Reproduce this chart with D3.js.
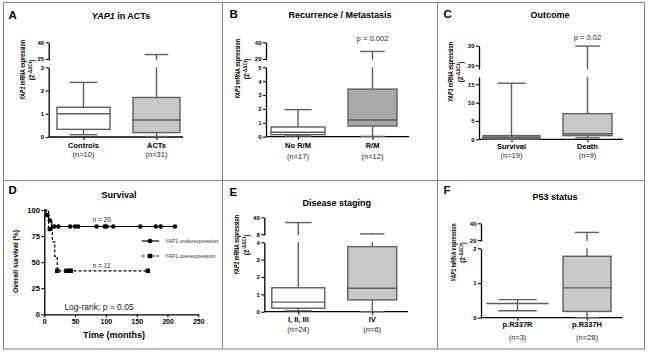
<!DOCTYPE html>
<html>
<head>
<meta charset="utf-8">
<script src="https://cdn.jsdelivr.net/npm/d3@7"></script>
<style>
  body { margin: 0; background: #fff; }
  text { font-family: "Liberation Sans", Arial, sans-serif; }
</style>
</head>
<body>
<svg width="650" height="353"></svg>
<script>
/* SECTION: data */

// box panels: [min, q1, median, q3, max]
var aGroups = ["Controls", "ACTs"];
var aCounts = ["(n=10)", "(n=31)"];
var aStats = [[0.1, 0.33, 1.0, 1.28, 2.35], [0.02, 0.19, 0.73, 1.7, 29]];
var aLowTicks = [0, 1, 2, 3];
var aHighTicks = [25, 40];

var bGroups = ["No R/M", "R/M"];
var bCounts = ["(n=17)", "(n=12)"];
var bStats = [[0.05, 0.15, 0.32, 0.7, 1.95], [0.02, 0.77, 1.2, 3.43, 29]];
var bLowTicks = [0, 1, 2, 3, 4, 5];
var bHighTicks = [20, 40];

var cGroups = ["Survival", "Death"];
var cCounts = ["(n=19)", "(n=9)"];
var cStats = [[0, 0.05, 0.45, 1.0, 15.3], [0.4, 1.0, 1.5, 7.0, 29.8]];
var cLowTicks = [0, 5, 10, 15];
var cHighTicks = [20, 30];

var eGroups = ["I, II, III", "IV"];
var eCounts = ["(n=24)", "(n=6)"];
var eStats = [[0.05, 0.2, 0.55, 1.38, 30], [0.0, 0.68, 1.35, 3.75, 8.6]];
var eLowTicks = [0, 1, 2, 3, 4];
var eHighTicks = [8, 40];

var fGroups = ["p.R337R", "p.R337H"];
var fCounts = ["(n=3)", "(n=28)"];
var fStats = [[0.2, 0.41, 0.41, 0.41, 0.52], [0.0, 0.18, 0.86, 1.77, 29.2]];
var fLowTicks = [0, 1, 2];
var fHighTicks = [20, 40];

// survival (Kaplan-Meier), months / %
var underStepT = [0, 3, 7, 12, 212];
var underStepS = [100, 95, 90, 84.2, 84.2];
var underCensorT = [5, 9, 16, 23, 42, 50, 55, 85, 98, 101, 112, 156, 181, 189, 212];
var overStepT = [0, 7, 13, 17, 21, 168];
var overStepS = [100, 81.8, 69.5, 55.6, 41.7, 41.7];
var overCensorT = [9, 21, 36, 40, 43, 168];
var survXTicks = [0, 50, 100, 150, 200, 250];
var survYTicks = [0, 25, 50, 75, 100];

/* SECTION: helpers */

var svg = d3.select("svg");
var FONT = "'Liberation Sans', Arial, sans-serif";
var BOXLINE = "#5f5f5f";
var fmt = d3.format("d");

function styleAxis(g, fs) {
  g.attr("font-family", FONT).attr("font-size", fs).attr("font-weight", "bold");
  g.select(".domain").attr("stroke", "#000").attr("stroke-width", 1.3);
  g.selectAll(".tick line").attr("stroke", "#000").attr("stroke-width", 1.1);
  g.selectAll(".tick text").attr("fill", "#000");
}

function addText(g, x, y, str, fs, weight, anchor) {
  return g.append("text").attr("x", x).attr("y", y)
    .attr("font-size", fs).attr("font-weight", weight || "normal")
    .attr("text-anchor", anchor || "middle").attr("fill", "#000").text(str);
}

function yapTitle(g, x1, x2, cy, len) {
  var t = g.append("text").attr("transform", "translate(" + x1 + "," + cy + ") rotate(-90)")
    .attr("text-anchor", "middle").attr("font-size", 7.5).attr("font-weight", "bold")
    .attr("textLength", len).attr("lengthAdjust", "spacingAndGlyphs");
  t.append("tspan").attr("font-style", "italic").text("YAP1");
  t.append("tspan").text(" mRNA expression");
  var t2 = g.append("text").attr("transform", "translate(" + x2 + "," + cy + ") rotate(-90)")
    .attr("text-anchor", "middle").attr("font-size", 6.5).attr("font-weight", "bold");
  t2.append("tspan").text("(2");
  t2.append("tspan").attr("font-size", 4.5).attr("dy", -2.5).text("-ΔΔCt");
  t2.append("tspan").attr("dy", 2.5).text(")");
}

function boxPanel(p) {
  var g = svg.append("g");
  var lo = d3.scaleLinear().domain(p.loDomain).range(p.loRange);
  var up = d3.scaleLinear().domain(p.upDomain).range(p.upRange);
  var x = d3.scalePoint().domain(p.groups).range(p.xRange);
  var loTop = p.loDomain[1], upBot = p.upDomain[0];

  addText(g, p.letter[1], p.letter[2], p.letter[0], 11.5, "bold", "start");
  var tt = addText(g, p.title[1], p.title[2], "", 9, "bold");
  if (p.italicTitle) {
    tt.append("tspan").attr("font-style", "italic").text(p.italicTitle);
  }
  tt.append("tspan").text(p.title[0]);
  yapTitle(g, p.ylab[0], p.ylab[1], p.ylab[2], p.ylab[3]);

  var gl = g.append("g").attr("transform", "translate(" + p.ax + ",0)")
    .call(d3.axisLeft(lo).tickValues(p.loTicks).tickFormat(fmt).tickSize(3).tickSizeOuter(0).tickPadding(1.5));
  styleAxis(gl, 6);
  var gu = g.append("g").attr("transform", "translate(" + p.ax + ",0)")
    .call(d3.axisLeft(up).tickValues(p.upTicks).tickFormat(fmt).tickSize(3).tickSizeOuter(0).tickPadding(1.5));
  styleAxis(gu, 6);

  var gx = g.append("g").attr("transform", "translate(0," + lo(0) + ")")
    .call(d3.axisBottom(x).tickSize(3).tickSizeOuter(0).tickFormat(""));
  styleAxis(gx, 6);
  gx.select(".domain").remove();
  g.append("line").attr("x1", p.ax).attr("x2", p.xEnd).attr("y1", lo(0)).attr("y2", lo(0))
    .attr("stroke", "#000").attr("stroke-width", 1.3);

  function vseg(cx, a, b) {
    if (a < loTop) {
      g.append("line").attr("x1", cx).attr("x2", cx)
        .attr("y1", lo(Math.max(a, 0))).attr("y2", lo(Math.min(b, loTop)))
        .attr("stroke", BOXLINE).attr("stroke-width", 1.4);
    }
    if (b > upBot) {
      g.append("line").attr("x1", cx).attr("x2", cx)
        .attr("y1", up(Math.max(a, upBot))).attr("y2", up(b))
        .attr("stroke", BOXLINE).attr("stroke-width", 1.4);
    }
  }
  function yv(v) { return v <= loTop ? lo(v) : up(v); }

  p.stats.forEach(function(s, i) {
    var cx = x(p.groups[i]), w = p.boxW[i], cw = w * p.capF[i];
    vseg(cx, s[3], s[4]);
    vseg(cx, s[0], s[1]);
    [s[0], s[4]].forEach(function(v) {
      g.append("line").attr("x1", cx - cw / 2).attr("x2", cx + cw / 2)
        .attr("y1", yv(v)).attr("y2", yv(v))
        .attr("stroke", BOXLINE).attr("stroke-width", 1.4);
    });
    if (s[3] > s[1]) {
      g.append("rect").attr("x", cx - w / 2).attr("width", w)
        .attr("y", lo(s[3])).attr("height", lo(s[1]) - lo(s[3]))
        .attr("fill", p.fills[i]).attr("stroke", BOXLINE).attr("stroke-width", 1.4);
    }
    g.append("line").attr("x1", cx - w / 2).attr("x2", cx + w / 2)
      .attr("y1", lo(s[2])).attr("y2", lo(s[2]))
      .attr("stroke", BOXLINE).attr("stroke-width", 1.4);

    addText(g, cx, lo(0) + p.labOff[0], p.groups[i], 7.5, "bold");
    addText(g, cx, lo(0) + p.labOff[1], p.counts[i], 7.5, "normal").attr("fill", "#222");
  });

  if (p.pval) {
    addText(g, x(p.groups[1]), p.pval[1], p.pval[0], 7.6, "normal").attr("fill", "#222");
  }
}

/* SECTION: frame */

svg.append("rect").attr("x", 3.5).attr("y", 2.5).attr("width", 641).attr("height", 346.5)
  .attr("fill", "none").attr("stroke", "#808080").attr("stroke-width", 1);
[222.5, 437.5].forEach(function(xx) {
  svg.append("line").attr("x1", xx).attr("x2", xx).attr("y1", 2.5).attr("y2", 349)
    .attr("stroke", "#808080");
});
svg.append("line").attr("x1", 3.5).attr("x2", 644.5).attr("y1", 180.5).attr("y2", 180.5)
  .attr("stroke", "#808080");

/* SECTION: box panels */

boxPanel({
  letter: ["A", 8.5, 19], title: [" in ACTs", 121, 19], italicTitle: "YAP1",
  ylab: [24.5, 34, 70, 60],
  ax: 48.7, xEnd: 183, xRange: [83.5, 156.5],
  loDomain: [0, 3], loRange: [137, 67.3], upDomain: [24, 40], upRange: [60.1, 42.3],
  loTicks: aLowTicks, upTicks: aHighTicks,
  groups: aGroups, counts: aCounts, stats: aStats,
  boxW: [53, 47], capF: [0.52, 0.5], fills: ["#ffffff", "#c8c8c8"], labOff: [11, 20]
});

boxPanel({
  letter: ["B", 229.5, 18.3], title: ["Recurrence / Metastasis", 340, 18.3],
  ylab: [239.5, 249, 69, 60],
  ax: 266, xEnd: 409, xRange: [298, 372.5],
  loDomain: [0, 5], loRange: [136.7, 67.3], upDomain: [19, 40], upRange: [59.8, 42.3],
  loTicks: bLowTicks, upTicks: bHighTicks,
  groups: bGroups, counts: bCounts, stats: bStats,
  boxW: [54, 49], capF: [0.5, 0.5], fills: ["#ffffff", "#a9a9a9"], labOff: [11.3, 22],
  pval: ["p = 0.002", 41]
});

boxPanel({
  letter: ["C", 443.5, 18.3], title: ["Outcome", 550, 18],
  ylab: [452.5, 462.5, 72, 60],
  ax: 479, xEnd: 623, xRange: [511.5, 587.5],
  loDomain: [0, 17], loRange: [139.3, 77], upDomain: [18, 30], upRange: [69.2, 45.7],
  loTicks: cLowTicks, upTicks: cHighTicks,
  groups: cGroups, counts: cCounts, stats: cStats,
  boxW: [57, 49], capF: [0.5, 0.5], fills: ["#8c8c8c", "#c8c8c8"], labOff: [10, 19],
  pval: ["p = 0.02", 40]
});

boxPanel({
  letter: ["E", 229.5, 195.7], title: ["Disease staging", 336.7, 205.7],
  ylab: [238.5, 248.5, 245, 60],
  ax: 264.3, xEnd: 408, xRange: [298.3, 372.2],
  loDomain: [0, 4], loRange: [311.7, 242.3], upDomain: [6.5, 40], upRange: [235, 217.3],
  loTicks: eLowTicks, upTicks: eHighTicks,
  groups: eGroups, counts: eCounts, stats: eStats,
  boxW: [53, 49], capF: [0.5, 0.5], fills: ["#ffffff", "#c8c8c8"], labOff: [10.3, 20.3]
});

boxPanel({
  letter: ["F", 443.5, 194], title: ["P53 status", 555, 199.5],
  ylab: [455.5, 465, 252.5, 58],
  ax: 481, xEnd: 622.7, xRange: [517.5, 587],
  loDomain: [0, 2], loRange: [317.7, 248.3], upDomain: [19, 40], upRange: [241, 223.3],
  loTicks: fLowTicks, upTicks: fHighTicks,
  groups: fGroups, counts: fCounts, stats: fStats,
  boxW: [62, 48], capF: [0.62, 0.5], fills: ["#ffffff", "#c8c8c8"], labOff: [9.5, 22.3]
});

/* SECTION: survival panel */

(function() {
  var g = svg.append("g");
  var x = d3.scaleLinear().domain([0, 250]).range([44.3, 198.3]);
  var y = d3.scaleLinear().domain([0, 100]).range([314.3, 210]);

  addText(g, 8.5, 194, "D", 11.5, "bold", "start");
  addText(g, 119, 198, "Survival", 9, "bold");

  var gy = g.append("g").attr("transform", "translate(" + x(0) + ",0)")
    .call(d3.axisLeft(y).tickValues(survYTicks).tickFormat(fmt).tickSize(3).tickSizeOuter(0).tickPadding(1.5));
  styleAxis(gy, 7.5);
  var gx = g.append("g").attr("transform", "translate(0," + y(0) + ")")
    .call(d3.axisBottom(x).tickValues(survXTicks).tickFormat(fmt).tickSize(3).tickSizeOuter(0).tickPadding(2));
  styleAxis(gx, 7);

  addText(g, 114, 338, "Time (months)", 9, "bold");
  g.append("text").attr("transform", "translate(17.5,261.5) rotate(-90)")
    .attr("text-anchor", "middle").attr("font-size", 7.5).attr("font-weight", "bold")
    .attr("textLength", 63).attr("lengthAdjust", "spacingAndGlyphs")
    .text("Overall survival (%)");

  function stepAt(ts, ss, t) {
    var k = 0;
    for (var i = 0; i < ts.length; i++) { if (ts[i] <= t) k = i; }
    return ss[k];
  }

  var line = d3.line().x(function(d) { return x(d[0]); }).y(function(d) { return y(d[1]); })
    .curve(d3.curveStepAfter);

  var under = underStepT.map(function(t, i) { return [t, underStepS[i]]; });
  var over = overStepT.map(function(t, i) { return [t, overStepS[i]]; });

  g.append("path").datum(over).attr("d", line).attr("fill", "none")
    .attr("stroke", "#000").attr("stroke-width", 1.2).attr("stroke-dasharray", "3,2");
  g.append("path").datum(under).attr("d", line).attr("fill", "none")
    .attr("stroke", "#000").attr("stroke-width", 1.2);

  g.selectAll("rect.cens").data(overCensorT).enter().append("rect").attr("class", "cens")
    .attr("x", function(d) { return x(d) - 2.2; })
    .attr("y", function(d) { return y(stepAt(overStepT, overStepS, d)) - 2.2; })
    .attr("width", 4.4).attr("height", 4.4).attr("fill", "#000");
  g.selectAll("circle.cens").data(underCensorT).enter().append("circle").attr("class", "cens")
    .attr("cx", function(d) { return x(d); })
    .attr("cy", function(d) { return y(stepAt(underStepT, underStepS, d)); })
    .attr("r", 2.3).attr("fill", "#000");

  addText(g, 101.7, 222, "n = 20", 6.5, "normal").attr("fill", "#222");
  addText(g, 101.7, 267.5, "n = 11", 6.5, "normal").attr("fill", "#222");
  addText(g, 99, 310, "Log-rank: p = 0.05", 8.5, "normal").attr("fill", "#222");

  // legend
  g.append("line").attr("x1", 141.7).attr("x2", 159).attr("y1", 241).attr("y2", 241)
    .attr("stroke", "#000").attr("stroke-width", 1.2);
  g.append("circle").attr("cx", 150).attr("cy", 241).attr("r", 2.3).attr("fill", "#000");
  g.append("line").attr("x1", 141.7).attr("x2", 159).attr("y1", 256).attr("y2", 256)
    .attr("stroke", "#000").attr("stroke-width", 1.2).attr("stroke-dasharray", "3,2");
  g.append("rect").attr("x", 147.8).attr("y", 253.8).attr("width", 4.4).attr("height", 4.4)
    .attr("fill", "#000");
  addText(g, 165, 243, "YAP1 underexpression", 5.3, "normal", "start").attr("fill", "#333");
  addText(g, 165, 258, "YAP1 overexpression", 5.3, "normal", "start").attr("fill", "#333");
})();
</script>
</body>
</html>
